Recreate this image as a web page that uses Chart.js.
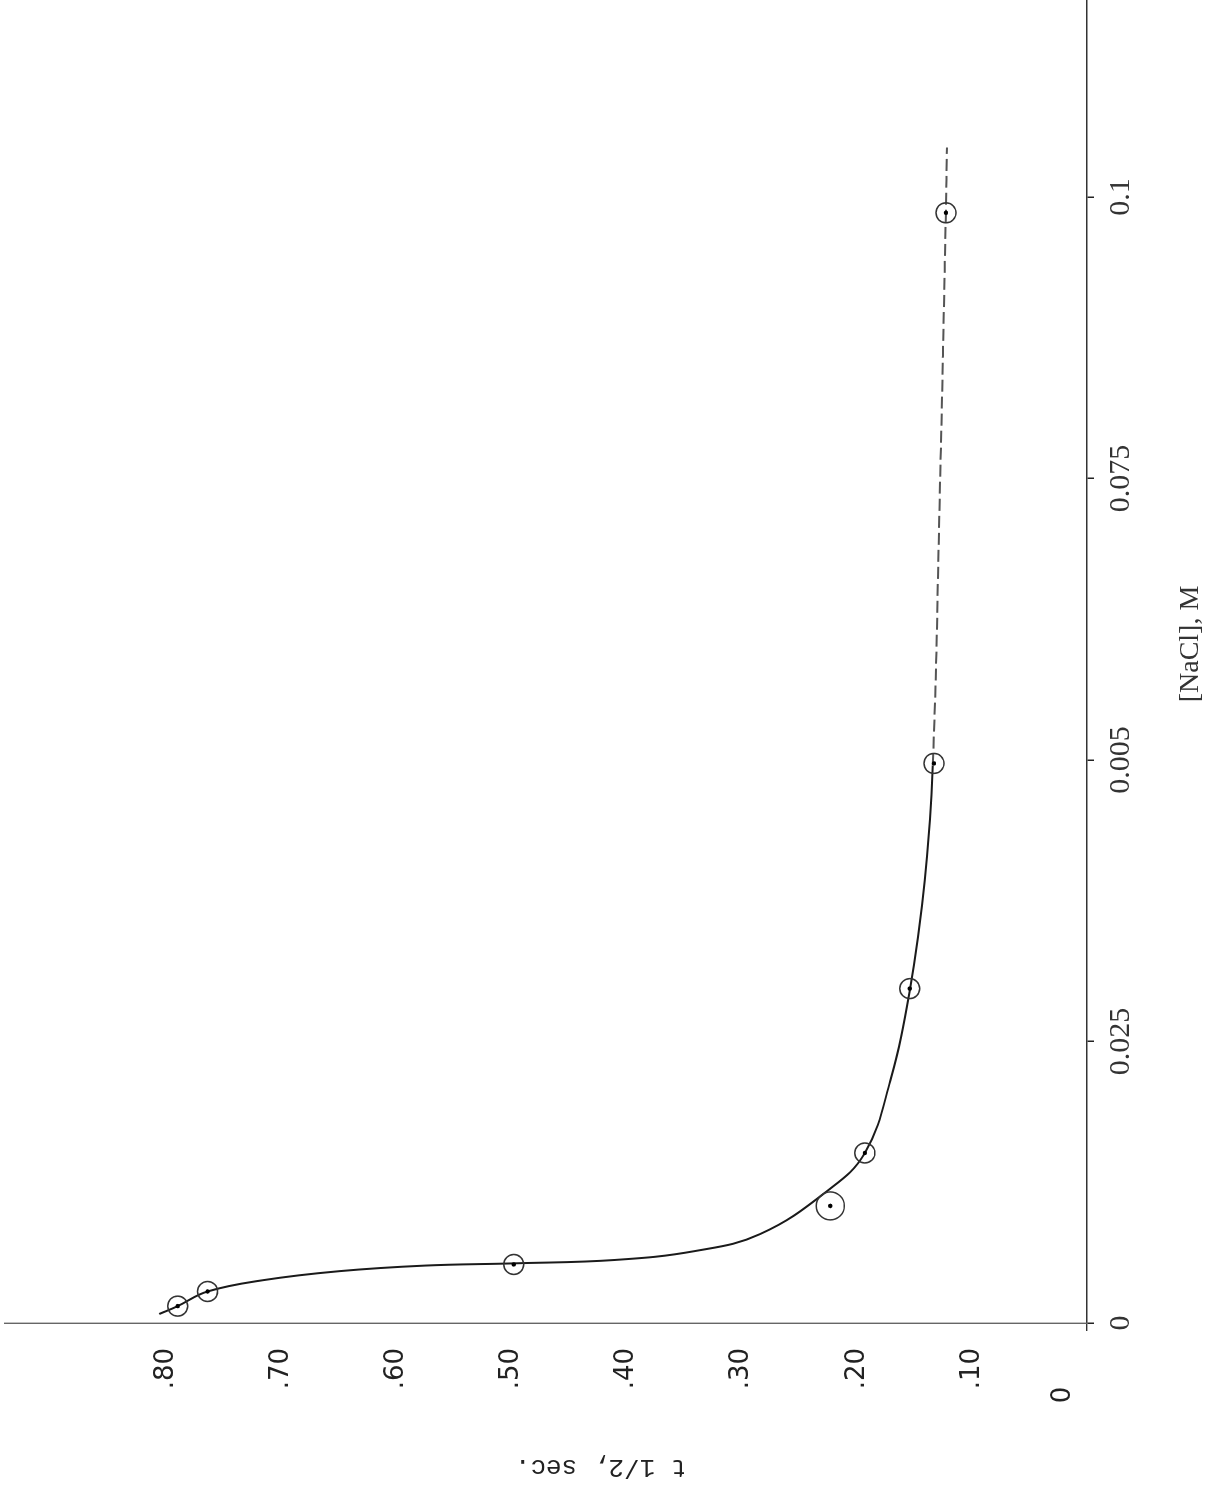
<!DOCTYPE html>
<html><head><meta charset="utf-8">
<script src="https://cdn.jsdelivr.net/npm/chart.js@4.4.1/dist/chart.umd.min.js"></script>
<style>
html,body{margin:0;padding:0;background:#fff;overflow:hidden;width:1211px;height:1492px;}
#wrap{position:absolute;left:0;top:0;width:1492px;height:1211px;transform-origin:0 0;transform:translate(0,1492px) rotate(-90deg);background:#fff;}
</style></head><body>
<div id="wrap"><canvas id="c" width="1492" height="1211"></canvas></div>
<script>
// measured points: [NaCl] (M) and t 1/2 (sec)
const concentrations = [0.0015, 0.0028, 0.0052, 0.0104, 0.0151, 0.0297, 0.0497, 0.0986];
const halfTimes      = [0.790,  0.764,  0.498,  0.223,  0.193,  0.154,  0.133,  0.1226];
// hand-drawn smooth curve
const curveConc = [0.0008, 0.0015, 0.0028, 0.0038, 0.0046, 0.0051, 0.0053, 0.0056, 0.0064, 0.0079, 0.0117, 0.0151, 0.0215, 0.0295, 0.0393, 0.0495, 0.0731, 0.0987, 0.1044];
const curveTime = [0.806,  0.790,  0.764,  0.716,  0.650,  0.575,  0.497,  0.410,  0.340,  0.284,  0.226,  0.193,  0.171,  0.154,  0.141,  0.134,  0.128,  0.1226, 0.1217];
const xTickValues = [0, 0.025, 0.05, 0.075, 0.1];
const xTickLabels = ['0', '0.025', '0.005', '0.075', '0.1'];
const yTickValues = [0, 0.1, 0.2, 0.3, 0.4, 0.5, 0.6, 0.7, 0.8];
const yTickLabels = ['', '.10', '.20', '.30', '.40', '.50', '.60', '.70', '.80'];
const yZeroLabel = '0';

const pts = concentrations.map((c, i) => ({x: c, y: halfTimes[i]}));
const curve = curveConc.map((c, i) => ({x: c, y: curveTime[i]}));

const zeroLabelPlugin = {
  id: 'zeroLabel',
  afterDraw(chart) {
    const ys = chart.scales.y;
    const ctx = chart.ctx;
    ctx.save();
    ctx.fillStyle = '#222';
    ctx.font = '26px "DejaVu Sans"';
    ctx.textAlign = 'center';
    ctx.textBaseline = 'middle';
    ctx.fillText(yZeroLabel, ys.right - 72, ys.getPixelForValue(0) - 24);
    ctx.restore();
  }
};

new Chart(document.getElementById('c'), {
  type: 'scatter',
  data: {
    datasets: [
      {
        type: 'line',
        data: curve,
        borderColor: '#1a1a1a',
        borderWidth: 2,
        pointRadius: 0,
        fill: false,
        tension: 0.4,
        segment: {
          borderDash: c => c.p0.parsed.x >= 0.049 ? [12, 5] : undefined,
          borderColor: c => c.p0.parsed.x >= 0.049 ? '#555' : undefined
        },
        order: 3
      },
      {
        data: pts,
        pointStyle: 'circle',
        pointRadius: c => c.dataIndex === 3 ? 14 : 10,
        pointBorderWidth: 1.5,
        pointBorderColor: '#333',
        pointBackgroundColor: 'rgba(0,0,0,0)',
        showLine: false,
        order: 2
      },
      {
        data: pts,
        pointStyle: 'circle',
        pointRadius: 2.2,
        pointBorderWidth: 0,
        pointBackgroundColor: '#000',
        showLine: false,
        order: 1
      }
    ]
  },
  options: {
    responsive: false,
    animation: false,
    devicePixelRatio: 1,
    layout: {autoPadding: false, padding: {top: 5, right: 0, left: 0, bottom: 0}},
    plugins: {legend: {display: false}, tooltip: {enabled: false}},
    scales: {
      x: {
        type: 'linear',
        min: 0,
        max: 0.1175,
        afterFit: s => { s.height = 124; s.paddingLeft = 0; s.paddingRight = 0; },
        afterBuildTicks: s => { s.ticks = xTickValues.map(v => ({value: v})); },
        ticks: {
          autoSkip: false,
          maxRotation: 0,
          padding: 9,
          color: '#333',
          font: {family: '"Liberation Serif"', size: 30},
          callback: (v, i) => xTickLabels[i]
        },
        grid: {display: true, drawOnChartArea: false, drawTicks: true, tickLength: 7, color: '#222', lineWidth: 1.5},
        border: {display: true, color: '#333', width: 1.6},
        title: {
          display: true,
          text: '     [NaCl], M',
          color: '#333',
          font: {family: '"Liberation Serif"', size: 28},
          padding: {top: 0, bottom: 4}
        }
      },
      y: {
        type: 'linear',
        min: 0,
        max: 0.94,
        afterFit: s => { s.width = 169; s.paddingTop = 0; s.paddingBottom = 0; },
        afterBuildTicks: s => { s.ticks = yTickValues.map(v => ({value: v})); },
        ticks: {
          autoSkip: false,
          padding: 17,
          color: '#222',
          font: {family: '"DejaVu Sans"', size: 26},
          callback: (v, i) => yTickLabels[i]
        },
        grid: {
          display: true, drawOnChartArea: false, drawTicks: true, tickLength: 8,
          color: c => (c.tick && c.tick.value === 0) ? '#333' : 'rgba(0,0,0,0)', lineWidth: 1.4
        },
        border: {display: true, color: '#666', width: 1.4, dash: [18, 4]},
        title: {
          display: true,
          text: 't 1/2, sec.       ',
          color: '#222',
          font: {family: '"Liberation Mono"', size: 26},
          padding: {top: 10, bottom: 0}
        }
      }
    }
  },
  plugins: [zeroLabelPlugin]
});
</script>
</body></html>
